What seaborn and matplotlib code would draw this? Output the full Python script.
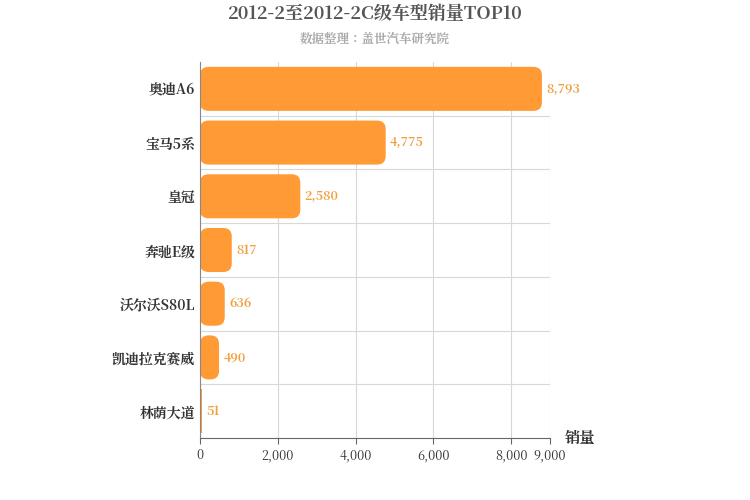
import matplotlib.pyplot as plt
import seaborn as sns
import pandas as pd
from matplotlib import font_manager
from matplotlib.patches import FancyBboxPatch

cjk = [f.name for f in font_manager.fontManager.ttflist if 'CJK' in f.name]
cjk_name = next((n for n in cjk if 'SC' in n), cjk[0] if cjk else 'DejaVu Sans')
plt.rcParams['font.family'] = 'sans-serif'
plt.rcParams['font.sans-serif'] = [cjk_name, 'DejaVu Sans']

models = ['奥迪A6', '宝马5系', '皇冠', '奔驰E级', '沃尔沃S80L', '凯迪拉克赛威', '林荫大道']
sales = [8793, 4775, 2580, 817, 636, 490, 51]
xticks = [0, 2000, 4000, 6000, 8000, 9000]

df = pd.DataFrame({'model': models, 'sales': sales})
orange = '#ff9a35'

fig = plt.figure(figsize=(7.5, 5), dpi=100)
ax = fig.add_axes([200 / 750, 62 / 500, 350 / 750, 376 / 500])
sns.barplot(data=df, x='sales', y='model', color=orange, width=0.82, ax=ax, zorder=2)
plt.rcParams['font.sans-serif'] = [cjk_name, 'DejaVu Sans']

ax.set_xlim(0, 9000)
ax.set_ylim(len(models) - 0.5, -0.5)
# convert rounding radius between x and y data units
aspect = (len(models) / 376) / (9000 / 350)
for p in list(ax.patches):
    x, y, w, h = p.get_x(), p.get_y(), p.get_width(), p.get_height()
    r = min(220, w / 2)
    p.set_visible(False)
    if w < 150:
        ax.add_patch(plt.Rectangle((x, y), w, h, fc=orange, ec='none', zorder=2))
        continue
    ax.add_patch(FancyBboxPatch((x, y), w, h, boxstyle=f'round,pad=0,rounding_size={r}',
                                mutation_aspect=aspect, fc=orange, ec='none', zorder=2))
for i, v in enumerate(sales):
    ax.text(v + 110, i, f'{v:,}', va='center', ha='left', color='#f0a040',
            fontsize=9, fontweight='bold')

ax.set_xticks(xticks)
ax.set_xticklabels([f'{t:,}' for t in xticks], fontsize=9, color='#333333')
ax.tick_params(axis='y', length=0, labelsize=10)
for lbl in ax.get_yticklabels():
    lbl.set_fontweight('bold')
    lbl.set_color('#333333')
    lbl.set_fontfamily(cjk_name)
ax.tick_params(axis='x', length=4, color='#666666')
ax.grid(axis='x', color='#d8d8d8', lw=0.8, zorder=0)
for k in range(len(models) - 1):
    ax.axhline(k + 0.5, color='#d8d8d8', lw=0.8, zorder=0)
ax.set_xlabel('')
ax.set_ylabel('')
for s in ['top', 'right']:
    ax.spines[s].set_visible(False)
ax.spines['left'].set_color('#888888')
ax.spines['bottom'].set_color('#666666')

fig.text(580 / 750, 1 - 438 / 500, '销量', fontsize=11, fontweight='bold', color='#333333',
         ha='center', va='center', fontfamily=cjk_name)
fig.text(0.5, 1 - 14 / 500, '2012-2至2012-2C级车型销量TOP10', fontsize=13, fontweight='bold',
         color='#555555', ha='center', va='center', fontfamily=cjk_name)
fig.text(0.5, 1 - 39 / 500, '数据整理：盖世汽车研究院', fontsize=9, fontweight='bold',
         color='#aaaaaa', ha='center', va='center', fontfamily=cjk_name)

fig.savefig('out.png', dpi=100)
